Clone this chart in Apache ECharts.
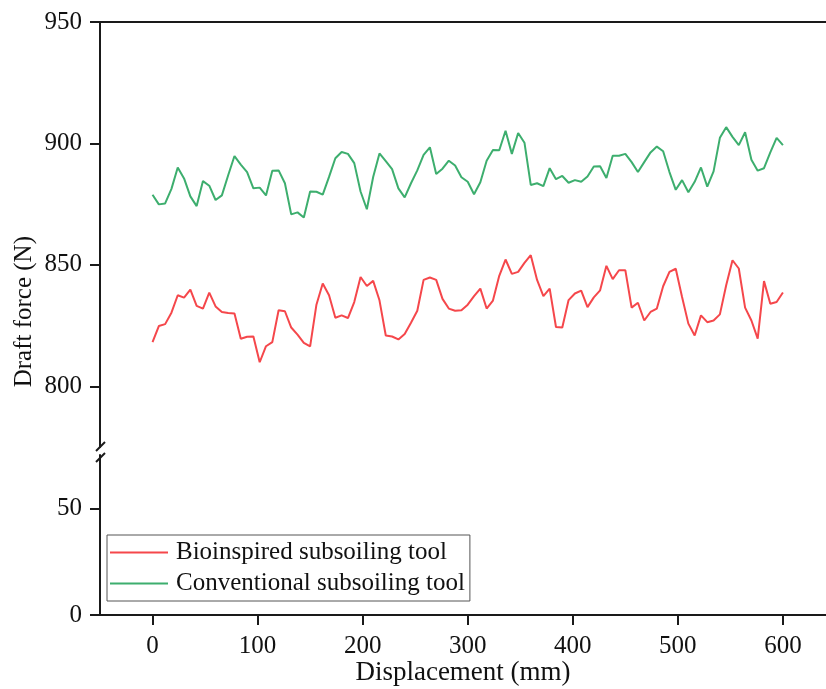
<!DOCTYPE html>
<html>
<head>
<meta charset="utf-8">
<script src="https://cdn.jsdelivr.net/npm/echarts@6/dist/echarts.min.js"></script>
<style>html,body{margin:0;padding:0;background:#fff}#c{width:826px;height:689px}</style>
</head>
<body>
<div id="c"></div>
<script>
// Displacement (mm), step 6 mm
const displacement = [];
for (let i = 0; i <= 100; i++) displacement.push(i * 6);

const bioinspired = [
818.2,824.8,825.6,830.3,837.5,836.5,839.8,833.1,832.0,838.6,
832.9,830.6,830.2,830.0,819.6,820.4,820.5,809.9,816.5,818.2,
831.3,830.9,824.2,821.3,817.9,816.4,833.6,842.3,837.5,828.2,
829.2,828.1,834.7,845.0,841.3,843.4,835.4,820.9,820.5,819.3,
821.5,826.2,831.1,843.8,844.8,843.8,836.0,832.0,831.1,831.3,
833.6,837.1,840.2,832.0,835.3,845.5,852.2,846.3,847.1,850.8,
854.0,843.8,837.1,840.2,824.4,824.2,835.5,838.2,839.4,832.6,
836.6,839.5,849.6,844.1,847.8,847.8,832.4,834.4,827.1,830.6,
832.0,841.2,847.1,848.4,836.8,825.8,820.9,829.2,826.4,827.1,
829.6,841.6,851.9,848.5,832.4,827.1,819.6,843.3,834.0,834.7,
838.6
];

const conventional = [
878.9,874.9,875.3,881.3,890.1,885.6,878.2,874.2,884.5,882.6,
876.7,878.6,886.9,894.8,891.3,888.2,881.5,881.8,878.6,888.8,
888.9,883.6,870.8,871.6,869.5,880.2,880.1,878.9,886.2,893.9,
896.5,895.7,891.9,880.2,872.9,886.2,895.9,892.7,889.4,881.5,
877.8,883.6,888.9,895.3,898.4,887.4,889.6,892.9,890.9,886.1,
884.2,879.1,884.0,892.9,897.3,897.2,905.2,895.7,904.3,900.3,
882.9,883.6,882.4,889.8,885.3,886.6,883.8,884.9,884.2,886.4,
890.5,890.6,885.8,894.9,894.9,895.7,892.3,888.2,892.3,896.3,
898.7,896.8,888.2,880.9,884.9,879.9,884.2,890.1,882.2,888.5,
902.3,906.7,902.7,899.3,904.6,893.3,888.8,889.8,896.3,902.3,
899.3
];

const xTicks = [0, 100, 200, 300, 400, 500, 600];
const yTicksUpper = [800, 850, 900, 950];
const yTicksLower = [0, 50];
const seriesNames = ['Bioinspired subsoiling tool', 'Conventional subsoiling tool'];

const FONT = 'Liberation Serif';
const AX = '#1a1a1a';
const chart = echarts.init(document.getElementById('c'), null, {renderer: 'canvas'});

const pair = (xs, ys) => xs.map((x, i) => [x, ys[i]]);

chart.setOption({
  animation: false,
  backgroundColor: '#fff',
  grid: [
    {left: 100, right: 0, top: 22, height: 425},
    {left: 100, right: 0, top: 455, height: 160}
  ],
  xAxis: [
    {gridIndex: 0, type: 'value', min: -50, max: 641, position: 'bottom',
     axisLine: {show: false}, axisTick: {show: false}, axisLabel: {show: false}, splitLine: {show: false}},
    {gridIndex: 1, type: 'value', min: -50, max: 641,
     axisLine: {show: true, onZero: false, lineStyle: {color: AX, width: 2}},
     axisTick: {show: true, length: 10, lineStyle: {color: AX, width: 2}, customValues: xTicks},
     axisLabel: {show: true, customValues: xTicks, margin: 19, color: '#111', fontFamily: FONT, fontSize: 25},
     splitLine: {show: false},
     name: 'Displacement (mm)', nameLocation: 'middle', nameGap: 43,
     nameTextStyle: {color: '#111', fontFamily: FONT, fontSize: 27}},
    {gridIndex: 0, type: 'value', min: -50, max: 641, position: 'top',
     axisLine: {show: true, onZero: false, lineStyle: {color: AX, width: 2}},
     axisTick: {show: false}, axisLabel: {show: false}, splitLine: {show: false}}
  ],
  yAxis: [
    {gridIndex: 0, type: 'value', min: 775, max: 950,
     axisLine: {show: true, onZero: false, lineStyle: {color: AX, width: 2}},
     axisTick: {show: true, length: 10, lineStyle: {color: AX, width: 2}, customValues: yTicksUpper},
     axisLabel: {show: true, customValues: yTicksUpper, margin: 18, color: '#111', fontFamily: FONT, fontSize: 25},
     splitLine: {show: false}},
    {gridIndex: 1, type: 'value', min: 0, max: 75,
     axisLine: {show: true, onZero: false, lineStyle: {color: AX, width: 2}},
     axisTick: {show: true, length: 10, lineStyle: {color: AX, width: 2}, customValues: yTicksLower},
     axisLabel: {show: true, customValues: yTicksLower, margin: 18, color: '#111', fontFamily: FONT, fontSize: 25},
     splitLine: {show: false}}
  ],
  legend: {
    orient: 'vertical', left: 107, top: 535,
    padding: [5, 5, 5, 3], itemGap: 6, itemWidth: 58, itemHeight: 2,
    icon: 'rect',
    borderColor: '#555', borderWidth: 1, backgroundColor: '#fff',
    textStyle: {color: '#111', fontFamily: FONT, fontSize: 25, padding: [0, 0, 0, 3]},
    data: seriesNames
  },
  graphic: [
    {type: 'text', left: 12, top: 236, rotation: Math.PI / 2,
     style: {text: 'Draft force (N)', fill: '#111', font: '25px "Liberation Serif"'}},
    {type: 'line', shape: {x1: 96, y1: 451, x2: 105, y2: 442}, style: {stroke: AX, lineWidth: 2}},
    {type: 'line', shape: {x1: 96, y1: 462, x2: 105, y2: 453}, style: {stroke: AX, lineWidth: 2}}
  ],
  series: [
    {name: seriesNames[0], type: 'line', xAxisIndex: 0, yAxisIndex: 0, symbol: 'none',
     data: pair(displacement, bioinspired), lineStyle: {color: '#F5474B', width: 2}, itemStyle: {color: '#F5474B'}},
    {name: seriesNames[1], type: 'line', xAxisIndex: 0, yAxisIndex: 0, symbol: 'none',
     data: pair(displacement, conventional), lineStyle: {color: '#3DAE6E', width: 2}, itemStyle: {color: '#3DAE6E'}}
  ]
});
</script>
</body>
</html>
